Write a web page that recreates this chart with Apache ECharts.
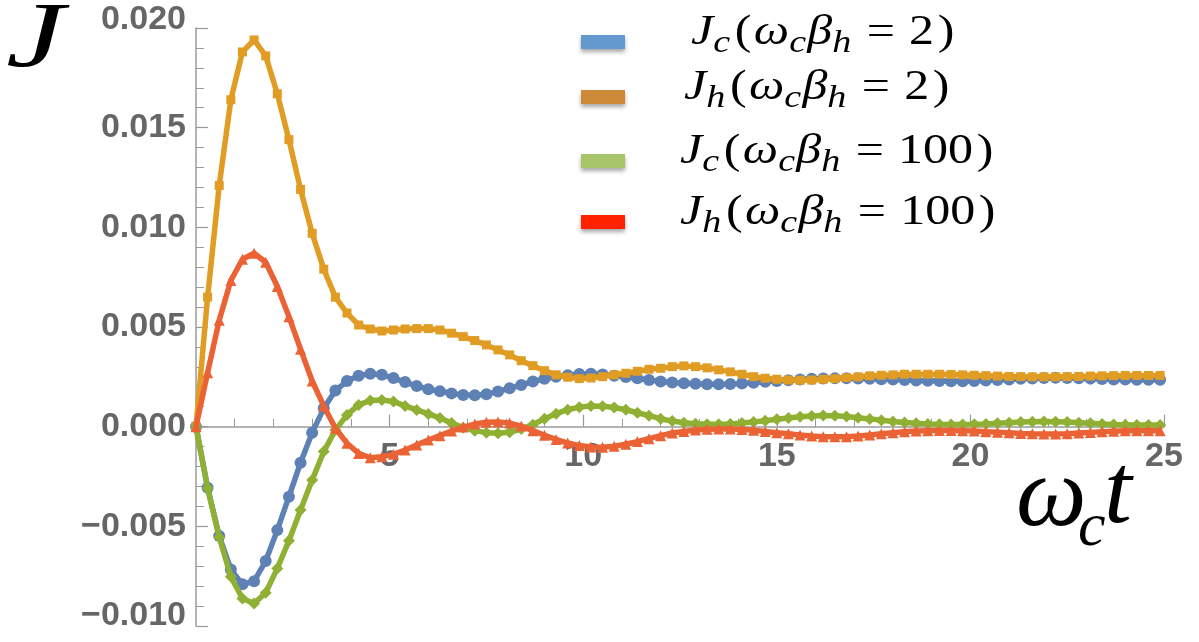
<!DOCTYPE html>
<html>
<head>
<meta charset="utf-8">
<style>
  html, body { margin: 0; padding: 0; background: #ffffff; }
  #chart { width: 1199px; height: 642px; }
</style>
<script src="https://cdn.jsdelivr.net/npm/echarts@6/dist/echarts.min.js"></script>
</head>
<body>
<div id="chart"></div>
<script>
// Heat currents J versus the dimensionless time ω_c t, sampled every 0.3
const timeStep = 0.3;
const sampleCount = 84;

// J_c, ω_c β_h = 2
const jc2 = [
  0, -0.00306, -0.00549, -0.00716, -0.00791, -0.00775, -0.00674, -0.00519, -0.00351, -0.00181,
  -0.0003, 0.00092, 0.00181, 0.00229, 0.00256, 0.00265, 0.0026, 0.00244, 0.00224, 0.00204,
  0.00188, 0.00178, 0.00167, 0.00159, 0.00158, 0.00163, 0.00176, 0.00193, 0.00209, 0.00226,
  0.0024, 0.0025, 0.00258, 0.00264, 0.00266, 0.00262, 0.00255, 0.00249, 0.00243, 0.00234,
  0.00227, 0.00222, 0.00218, 0.00215, 0.00213, 0.00213, 0.00214, 0.00216, 0.0022, 0.00225,
  0.00229, 0.00233, 0.00237, 0.0024, 0.00242, 0.00243, 0.00243, 0.00242, 0.0024, 0.00238,
  0.00236, 0.00234, 0.00232, 0.0023, 0.00229, 0.00228, 0.00228, 0.00229, 0.00231, 0.00234,
  0.00237, 0.0024, 0.00242, 0.00244, 0.00245, 0.00244, 0.00243, 0.00241, 0.00239, 0.00237,
  0.00236, 0.00235, 0.00235, 0.00235
];

// J_h, ω_c β_h = 2
const jh2 = [
  0, 0.0065, 0.0121, 0.0164, 0.0188, 0.0194, 0.0186, 0.0167, 0.0144, 0.0119,
  0.0097, 0.0079, 0.0065, 0.0057, 0.0051, 0.0049, 0.0048, 0.00485, 0.0049, 0.00492,
  0.00492, 0.00485, 0.00469, 0.00452, 0.00432, 0.0041, 0.00385, 0.0036, 0.00331, 0.00306,
  0.00281, 0.0026, 0.00248, 0.00241, 0.00244, 0.00251, 0.0026, 0.00268, 0.00278, 0.00288,
  0.00293, 0.00301, 0.00305, 0.00301, 0.00295, 0.00285, 0.00275, 0.00263, 0.00251, 0.00243,
  0.00238, 0.00234, 0.00233, 0.00234, 0.00238, 0.00241, 0.00246, 0.0025, 0.00255, 0.00258,
  0.0026, 0.00263, 0.00263, 0.00263, 0.00263, 0.00262, 0.0026, 0.00258, 0.00256, 0.00254,
  0.00252, 0.00251, 0.0025, 0.0025, 0.0025, 0.00251, 0.00252, 0.00254, 0.00255, 0.00256,
  0.00257, 0.00257, 0.00257, 0.00257
];

// J_c, ω_c β_h = 100
const jc100 = [
  0, -0.00309, -0.00555, -0.00753, -0.00862, -0.00887, -0.00833, -0.00711, -0.00572, -0.00418,
  -0.00268, -0.00125, -0.00017, 0.00059, 0.00109, 0.00131, 0.00134, 0.00126, 0.00104, 0.00084,
  0.00064, 0.00044, 0.00018, -0.00005, -0.0002, -0.0003, -0.00033, -0.00028, -0.00012, 0.0001,
  0.0004, 0.00065, 0.00085, 0.00098, 0.00104, 0.00103, 0.00096, 0.00085, 0.0007, 0.00055,
  0.0004, 0.00028, 0.0002, 0.00015, 0.00012, 0.00012, 0.00014, 0.00018, 0.00024, 0.0003,
  0.00037, 0.00044, 0.0005, 0.00054, 0.00056, 0.00055, 0.00051, 0.00045, 0.00039, 0.00032,
  0.00026, 0.00021, 0.00017, 0.00014, 0.00012, 0.00011, 0.00011, 0.00012, 0.00014, 0.00017,
  0.0002, 0.00023, 0.00025, 0.00026, 0.00025, 0.00023, 0.0002, 0.00017, 0.00014, 0.00011,
  0.00009, 0.00008, 0.00008, 0.00008
];

// J_h, ω_c β_h = 100
const jh100 = [
  0, 0.00271, 0.00534, 0.00733, 0.0084, 0.0087, 0.00825, 0.00703, 0.00552, 0.00389,
  0.00229, 0.00104, -0.00008, -0.00083, -0.00134, -0.00156, -0.00151, -0.00139, -0.00117, -0.00092,
  -0.00067, -0.00045, -0.00022, -0.00002, 0.00013, 0.00022, 0.00024, 0.00018, 0.00003, -0.0002,
  -0.00043, -0.00064, -0.00082, -0.00095, -0.00102, -0.00103, -0.00098, -0.00088, -0.00075, -0.0006,
  -0.00045, -0.00032, -0.00024, -0.00017, -0.00013, -0.00012, -0.00012, -0.00014, -0.00018, -0.00024,
  -0.0003, -0.00036, -0.00042, -0.00047, -0.0005, -0.00051, -0.0005, -0.00047, -0.00042, -0.00036,
  -0.0003, -0.00025, -0.00022, -0.0002, -0.00019, -0.00019, -0.0002, -0.00022, -0.00025, -0.00028,
  -0.00031, -0.00034, -0.00036, -0.00037, -0.00037, -0.00035, -0.00032, -0.00029, -0.00026, -0.00023,
  -0.00021, -0.0002, -0.0002, -0.0002
];

// Legend entries: subscript of J and parameter value
const legendLabels = [
  { sub: 'c', value: '2' },
  { sub: 'h', value: '2' },
  { sub: 'c', value: '100' },
  { sub: 'h', value: '100' }
];
const lineColors   = ['#5E81B5', '#E19C24', '#8FB032', '#EB6235'];
const swatchColors = ['#6399CF', '#CD8A36', '#A8C56A', '#FF2200'];
const markerShapes = ['circle', 'rect', 'diamond', 'triangle'];
const markerSizes  = [12, 9, 12, 11];

const times = [];
for (let i = 0; i < sampleCount; i++) times.push(+(i * timeStep).toFixed(1));

const seriesValues = [jc2, jh2, jc100, jh100];

const Y_MIN = -0.010, Y_MAX = 0.020;

// plot area (px)
const GRID = { left: 196, right: 35, top: 28, bottom: 16 };
const CHART_H = 642;
const plotH = CHART_H - GRID.top - GRID.bottom;
// the time axis runs along J = 0
const zeroLift = plotH * (0 - Y_MIN) / (Y_MAX - Y_MIN);

const MATH_FONT = '"Liberation Serif", "DejaVu Serif", serif';
const TICK_FONT = '"Liberation Sans", Arial, sans-serif';
const TICK_SIZE = 34;
const TICK_COLOR = '#666666';

const richStyles = {
  i:   { fontFamily: MATH_FONT, fontStyle: 'italic', fontSize: 42, lineHeight: 48, verticalAlign: 'top', color: '#000' },
  r:   { fontFamily: MATH_FONT, fontSize: 42, lineHeight: 48, verticalAlign: 'top', color: '#000' },
  p:   { fontFamily: MATH_FONT, fontSize: 42, lineHeight: 48, verticalAlign: 'top', color: '#000', padding: [0, 2, 0, 3] },
  eq:  { fontFamily: MATH_FONT, fontSize: 42, lineHeight: 48, verticalAlign: 'top', color: '#000', padding: [0, 12, 0, 12] },
  sub: { fontFamily: MATH_FONT, fontStyle: 'italic', fontSize: 32, lineHeight: 44, verticalAlign: 'bottom', color: '#000', padding: [0, 1, 0, 0] }
};

const graphics = [];
const legendRows = [42, 97, 161, 222];
const legendTextX = [691, 684, 680, 680];
legendLabels.forEach((lab, k) => {
  graphics.push({
    type: 'rect',
    shape: { x: 581, y: legendRows[k] - 7, width: 44, height: 14 },
    style: { fill: swatchColors[k], shadowBlur: 4, shadowOffsetY: 3, shadowColor: 'rgba(0,0,0,0.35)' },
    z: 10
  });
  graphics.push({
    type: 'text',
    x: legendTextX[k],
    y: legendRows[k] - 30,
    scaleX: 1.19,
    style: {
      text: '{i|J}{sub|' + lab.sub + '}{p|(}{i|ω}{sub|c}{i|β}{sub|h}{eq|=}{r|' + lab.value + '}{p|)}',
      rich: richStyles
    },
    z: 10
  });
});

// Axis titles
const titleStyle = (text, size) => ({ text, fontFamily: MATH_FONT, fontStyle: 'italic', fontSize: size, fill: '#000' });
graphics.push({ type: 'text', x: 6, y: -6, scaleX: 1.4, style: titleStyle('J', 94), z: 10 });
graphics.push({ type: 'text', x: 1016, y: 449, style: titleStyle('ω', 100), z: 10 });
graphics.push({ type: 'text', x: 1078, y: 498, style: titleStyle('c', 62), z: 10 });
graphics.push({ type: 'text', x: 1104, y: 446, style: titleStyle('t', 100), z: 10 });

const axisGray = '#9a9a9a';

// end labels of the J axis sit a little higher than their ticks
const yLabelRich = {
  top: { fontFamily: TICK_FONT, fontWeight: 'bold', fontSize: TICK_SIZE, color: TICK_COLOR, padding: [0, 0, 16, 0] },
  bot: { fontFamily: TICK_FONT, fontWeight: 'bold', fontSize: TICK_SIZE, color: TICK_COLOR, padding: [0, 0, 20, 0] }
};

const option = {
  animation: false,
  backgroundColor: '#ffffff',
  grid: {
    left: GRID.left, right: GRID.right, top: GRID.top, bottom: GRID.bottom,
    containLabel: false, outerBoundsMode: 'none'
  },
  xAxis: {
    type: 'value', min: 0, max: 25, interval: 5,
    position: 'bottom',
    offset: -zeroLift,
    axisLine: { onZero: false, lineStyle: { color: axisGray, width: 1.5 } },
    axisTick: { inside: true, length: 12, lineStyle: { color: axisGray, width: 1.2 } },
    minorTick: { show: true, splitNumber: 5, length: 8, lineStyle: { color: axisGray, width: 1 } },
    axisLabel: {
      fontFamily: TICK_FONT, fontWeight: 'bold', fontSize: TICK_SIZE, color: TICK_COLOR, margin: 13,
      formatter: v => (v === 0 ? '' : String(v))
    },
    splitLine: { show: false }
  },
  yAxis: {
    type: 'value', min: Y_MIN, max: Y_MAX, interval: 0.005,
    axisLine: { show: true, onZero: false, lineStyle: { color: axisGray, width: 1.5 } },
    axisTick: { show: true, inside: true, length: 12, lineStyle: { color: axisGray, width: 1.2 } },
    minorTick: { show: true, splitNumber: 5, length: 8, lineStyle: { color: axisGray, width: 1 } },
    axisLabel: {
      fontFamily: TICK_FONT, fontWeight: 'bold', fontSize: TICK_SIZE, color: TICK_COLOR, margin: 10,
      rich: yLabelRich,
      formatter: v => {
        const s = (v < -1e-9 ? '−' : '') + Math.abs(v).toFixed(3);
        if (Math.abs(v - Y_MAX) < 1e-9) return '{top|' + s + '}';
        if (Math.abs(v - Y_MIN) < 1e-9) return '{bot|' + s + '}';
        return s;
      }
    },
    splitLine: { show: false }
  },
  series: seriesValues.map((vals, k) => ({
    type: 'line',
    data: times.map((t, i) => [t, vals[i]]),
    symbol: markerShapes[k],
    symbolSize: markerSizes[k],
    showAllSymbol: true,
    smooth: false,
    lineStyle: { color: lineColors[k], width: 5.5 },
    itemStyle: { color: lineColors[k] },
    z: 2 + k
  })),
  graphic: graphics
};

const chart = echarts.init(document.getElementById('chart'), null, { renderer: 'canvas' });
chart.setOption(option);
</script>
</body>
</html>
